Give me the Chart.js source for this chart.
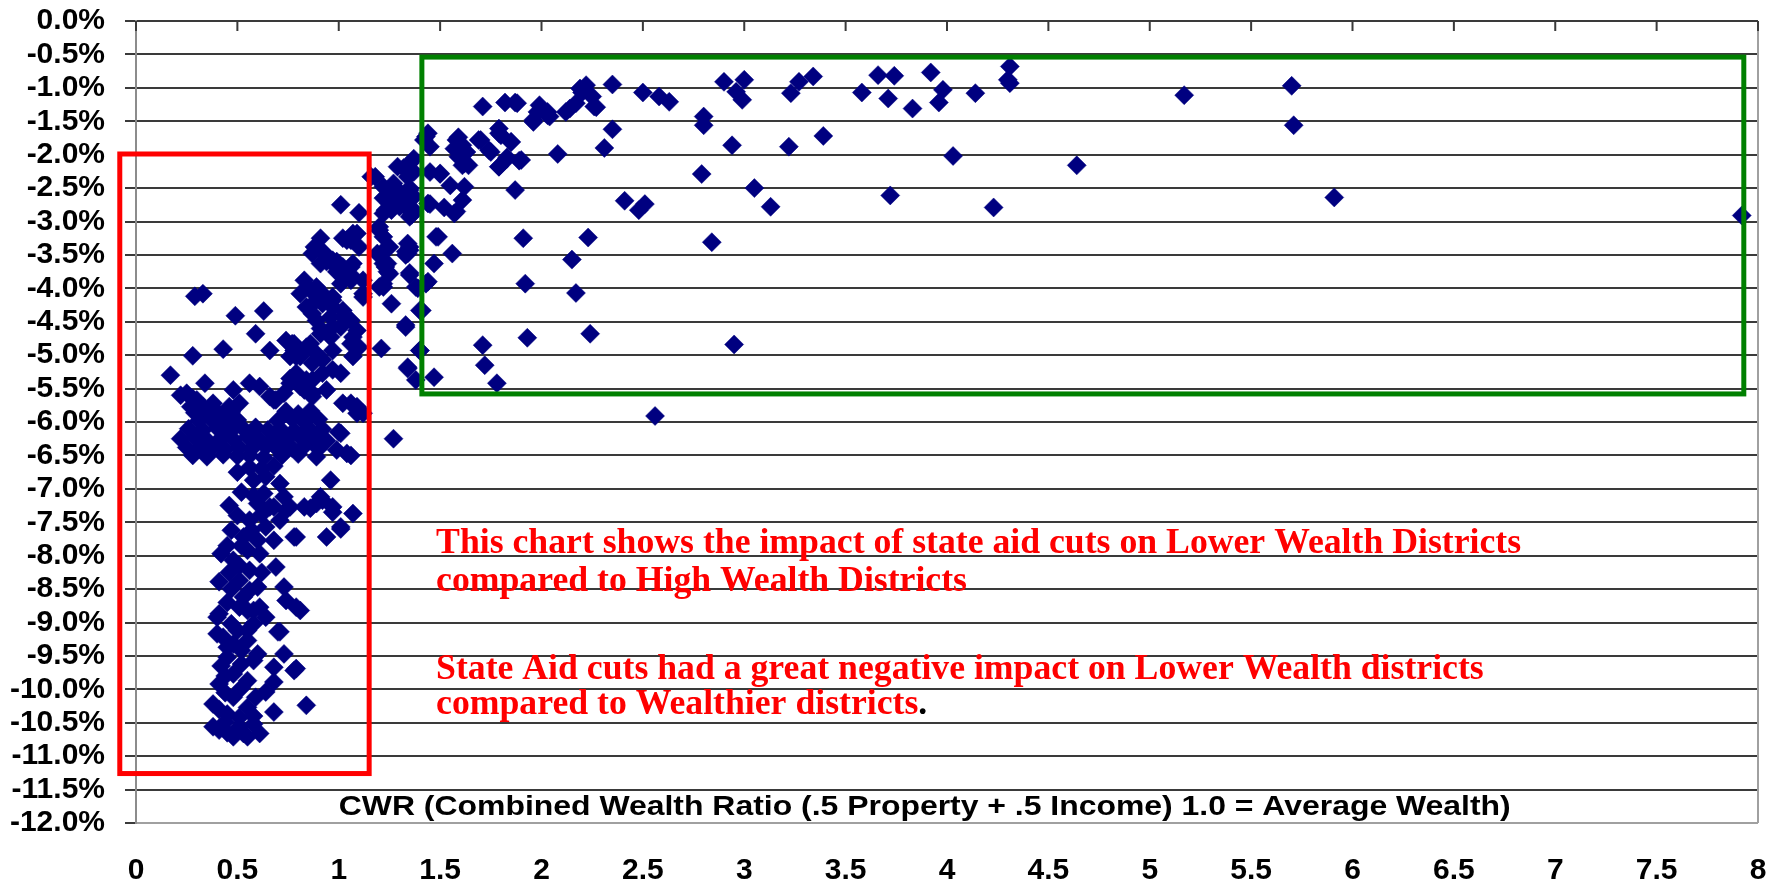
<!DOCTYPE html>
<html>
<head>
<meta charset="utf-8">
<title>State aid cuts by Combined Wealth Ratio</title>
<script src="https://cdn.jsdelivr.net/npm/chart.js@4.4.0/dist/chart.umd.min.js"></script>
<style>
  body { margin: 0; background: #fff; }
  canvas { display: block; }
</style>
</head>
<body>
<canvas id="cwrChart" width="1783" height="884"></canvas>
<script>
// each district: [CWR, % change in state aid]
const highWealth = [
  [2.35, -0.95], [2.50, -1.07], [2.58, -1.13], [2.63, -1.21], [2.80, -1.43], [2.80, -1.56],
  [2.90, -0.91], [3.00, -0.88], [2.96, -1.06], [2.99, -1.18], [3.23, -1.08], [3.27, -0.91],
  [3.34, -0.83], [2.94, -1.86], [3.22, -1.88], [3.39, -1.72], [2.79, -2.29], [3.05, -2.50],
  [3.13, -2.78], [2.41, -2.69], [2.48, -2.83], [2.51, -2.74], [2.84, -3.31], [2.95, -4.84],
  [2.56, -5.91], [2.35, -1.62], [2.31, -1.90], [3.58, -1.07], [3.66, -0.81], [3.74, -0.82],
  [3.71, -1.16], [3.83, -1.31], [3.92, -0.77], [3.98, -1.03], [3.96, -1.22], [4.14, -1.08],
  [4.31, -0.68], [4.30, -0.88], [4.31, -0.93], [4.03, -2.02], [4.64, -2.16], [3.72, -2.61],
  [4.23, -2.79], [5.17, -1.11], [5.70, -0.97], [5.71, -1.56], [5.91, -2.64], [7.92, -2.91]
];
const midWealth = [
  [2.19, -1.01], [2.22, -0.96], [2.20, -1.07], [2.25, -1.13], [2.27, -1.29], [2.17, -1.23],
  [2.14, -1.31], [2.12, -1.36], [1.99, -1.26], [2.03, -1.36], [1.98, -1.36], [1.96, -1.51],
  [2.04, -1.43], [1.82, -1.22], [1.87, -1.22], [1.71, -1.28], [1.79, -1.61], [1.80, -1.71],
  [1.85, -1.81], [1.69, -1.78], [1.74, -1.93], [1.59, -1.74], [1.57, -1.91], [1.61, -1.86],
  [1.63, -1.96], [1.59, -2.03], [1.61, -2.16], [1.64, -2.16], [1.83, -2.04], [1.79, -2.18],
  [1.89, -2.09], [2.08, -1.99], [1.87, -2.53], [1.50, -2.29], [1.55, -2.46], [1.62, -2.48],
  [1.61, -2.68], [1.45, -2.74], [1.52, -2.79], [1.57, -2.88], [1.91, -3.25], [2.23, -3.24],
  [1.49, -3.23], [1.56, -3.48], [1.47, -3.63], [2.15, -3.57], [1.92, -3.93], [2.17, -4.07],
  [1.44, -3.90], [1.93, -4.74], [2.24, -4.68], [1.71, -4.85], [1.72, -5.15], [1.78, -5.42],
  [1.47, -5.33], [1.43, -1.73], [1.45, -1.88], [1.45, -2.26], [1.44, -2.73], [1.58, -1.78],
  [1.60, -1.93], [1.62, -2.13], [1.70, -1.78], [1.75, -1.96], [1.79, -1.68], [1.79, -2.18],
  [1.90, -2.08], [1.83, -2.06], [1.85, -1.81], [1.88, -1.23], [1.96, -1.48], [2.03, -1.41],
  [2.26, -1.28], [1.50, -2.28], [1.58, -2.85], [1.43, -3.93], [1.40, -4.33], [1.40, -4.93],
  [1.48, -3.23], [1.44, -1.68], [1.42, -1.78]
];
const risingBand = [
  [1.35, -2.13], [1.34, -2.33], [1.35, -2.53], [1.33, -2.68], [1.37, -2.83], [1.35, -2.93],
  [1.34, -3.33], [1.35, -3.43], [1.33, -3.45], [1.35, -3.77], [1.39, -4.00], [1.41, -4.33],
  [1.33, -4.58], [1.40, -4.93], [1.34, -5.18], [1.38, -5.37], [1.16, -2.33], [1.22, -2.48],
  [1.27, -2.43], [1.22, -2.65], [1.29, -2.60], [1.33, -2.78], [1.26, -2.83], [1.37, -2.06],
  [1.35, -2.26], [1.20, -3.08], [1.22, -3.23], [1.25, -3.38], [1.23, -3.68], [1.24, -3.75],
  [1.22, -3.98], [1.35, -3.38], [1.33, -3.50], [1.35, -3.80], [1.26, -4.23], [1.33, -4.55],
  [1.21, -4.90], [1.34, -5.20], [1.27, -6.25], [1.18, -2.33], [1.24, -2.53], [1.25, -2.73],
  [1.22, -2.88], [1.20, -3.13], [1.24, -3.38], [1.22, -3.63], [1.19, -3.48], [1.20, -3.98],
  [1.29, -2.18], [1.32, -2.20], [1.37, -2.26], [1.30, -2.56], [1.35, -2.50], [1.37, -2.63],
  [1.24, -2.68], [1.28, -2.73], [1.23, -2.83], [1.30, -2.78], [1.36, -2.90], [1.34, -2.68],
  [1.34, -3.48], [1.24, -3.63], [1.25, -3.78], [1.38, -3.98], [1.22, -3.93], [1.23, -3.63]
];
const nearAverage = [
  [1.01, -2.75], [1.10, -2.87], [1.02, -3.25], [1.06, -3.28], [1.09, -3.18], [1.10, -3.38],
  [0.91, -3.25], [0.88, -3.38], [0.87, -3.48], [0.92, -3.45], [0.94, -3.60], [0.99, -3.60],
  [1.06, -3.68], [0.99, -3.75], [1.06, -3.88], [1.12, -3.88], [1.12, -4.13], [0.83, -3.88],
  [0.86, -4.03], [0.89, -3.98], [0.92, -4.08], [0.84, -4.28], [0.87, -4.38], [0.92, -4.23],
  [0.96, -4.43], [0.97, -4.18], [1.02, -4.33], [1.06, -4.48], [1.01, -4.58], [1.09, -4.63],
  [0.91, -4.60], [0.96, -4.73], [1.06, -4.83], [1.10, -4.88], [0.86, -4.83], [0.89, -4.98],
  [0.92, -5.07], [0.92, -5.27], [0.87, -5.37], [0.78, -4.83], [0.76, -5.02], [0.81, -5.02],
  [0.79, -5.27], [0.84, -5.37], [0.76, -5.42], [1.01, -5.27], [1.06, -5.72], [1.09, -5.87],
  [1.00, -6.15], [1.07, -3.18], [1.04, -3.28], [0.93, -3.48], [0.97, -3.63], [1.02, -3.68],
  [1.07, -3.63], [1.02, -3.83], [1.07, -3.83], [0.97, -4.13], [1.12, -4.08], [0.91, -3.63],
  [0.97, -3.58], [1.04, -3.73], [1.01, -3.93], [0.81, -4.08], [0.89, -4.18], [0.97, -4.28],
  [1.02, -4.43], [0.89, -4.48], [0.97, -4.58], [1.07, -4.73], [0.91, -4.68], [0.84, -4.88],
  [0.97, -4.93], [1.07, -5.02], [0.87, -5.12], [0.97, -5.22], [0.74, -4.78], [0.78, -4.93],
  [0.78, -5.32], [0.81, -5.47], [0.87, -5.57], [0.94, -5.52], [1.02, -5.72], [1.09, -5.77],
  [1.12, -5.87], [0.96, -6.87], [0.91, -7.12], [0.97, -7.27], [1.07, -7.37], [1.01, -7.57],
  [0.94, -7.72], [0.99, -6.42], [1.04, -6.47], [1.06, -6.50], [1.01, -6.17]
];
const lowScatter = [
  [0.29, -4.12], [0.33, -4.08], [0.49, -4.41], [0.63, -4.34], [0.59, -4.68], [0.43, -4.91],
  [0.28, -5.01], [0.66, -4.93], [0.17, -5.30], [0.22, -5.60], [0.25, -5.57], [0.34, -5.42],
  [0.30, -5.67], [0.33, -5.77], [0.38, -5.72], [0.40, -5.87], [0.48, -5.52], [0.51, -5.72],
  [0.46, -5.77], [0.56, -5.42], [0.61, -5.47], [0.66, -5.62], [0.69, -5.67], [0.73, -5.57],
  [0.77, -4.83], [0.79, -5.02], [0.27, -5.77], [0.32, -5.82], [0.28, -5.65], [0.68, -5.67],
  [0.76, -5.35], [0.83, -5.52], [0.87, -5.62]
];
const lowShelf = [
  [0.29, -5.86], [0.35, -5.83], [0.41, -5.88], [0.47, -5.85], [0.74, -5.84], [0.80, -5.88],
  [0.86, -5.83], [0.31, -5.98], [0.37, -5.96], [0.44, -6.00], [0.50, -5.97], [0.70, -5.98],
  [0.77, -5.95], [0.83, -6.00], [0.90, -5.96], [0.26, -6.10], [0.33, -6.12], [0.40, -6.09],
  [0.47, -6.13], [0.53, -6.10], [0.59, -6.08], [0.65, -6.12], [0.71, -6.10], [0.78, -6.13],
  [0.85, -6.09], [0.92, -6.11], [0.22, -6.25], [0.29, -6.23], [0.35, -6.27], [0.42, -6.24],
  [0.48, -6.26], [0.55, -6.22], [0.61, -6.27], [0.68, -6.24], [0.74, -6.26], [0.81, -6.23],
  [0.88, -6.25], [0.94, -6.28], [0.25, -6.38], [0.31, -6.40], [0.38, -6.37], [0.44, -6.41],
  [0.51, -6.38], [0.57, -6.40], [0.64, -6.37], [0.70, -6.41], [0.77, -6.39], [0.83, -6.36],
  [0.90, -6.40], [0.28, -6.50], [0.35, -6.52], [0.43, -6.49], [0.50, -6.51], [0.56, -6.50],
  [0.63, -6.53], [0.72, -6.50], [0.80, -6.48], [0.89, -6.52]
];
const lowColumn = [
  [0.58, -6.87], [0.64, -6.82], [0.71, -6.92], [0.63, -7.07], [0.73, -7.12], [0.66, -7.27],
  [0.76, -7.27], [0.78, -7.72], [0.46, -7.25], [0.86, -7.29], [0.92, -7.17], [0.97, -7.35],
  [1.01, -7.60], [0.79, -7.72], [0.60, -7.22], [0.68, -7.27], [0.74, -7.32], [0.83, -7.27],
  [0.89, -7.22], [0.56, -7.47], [0.64, -7.57], [0.71, -7.47], [0.53, -7.72], [0.60, -7.77],
  [0.68, -7.77], [0.42, -7.97], [0.48, -8.07], [0.55, -7.92], [0.61, -7.97], [0.69, -8.17],
  [0.56, -8.22], [0.41, -8.39], [0.51, -8.37], [0.60, -8.47], [0.73, -8.47], [0.79, -8.77],
  [0.74, -8.67], [0.53, -8.62], [0.61, -8.77], [0.55, -8.82], [0.64, -8.92], [0.71, -9.14],
  [0.40, -8.92], [0.40, -9.17], [0.50, -9.12], [0.55, -9.27], [0.45, -9.37], [0.60, -9.47],
  [0.73, -9.47], [0.68, -9.67], [0.79, -9.69], [0.41, -8.87], [0.51, -8.77], [0.58, -8.82],
  [0.48, -9.32], [0.55, -9.12], [0.45, -9.52], [0.58, -9.57], [0.48, -9.77], [0.41, -9.92],
  [0.55, -9.87], [0.48, -10.12], [0.38, -10.22], [0.45, -10.37], [0.55, -10.27], [0.58, -10.52],
  [0.41, -10.61], [0.48, -10.71], [0.55, -10.71], [0.61, -10.66], [0.38, -10.56], [0.51, -10.56],
  [0.81, -8.82], [0.78, -9.72], [0.68, -9.89], [0.64, -10.04], [0.84, -10.24], [0.68, -10.34],
  [0.70, -9.14], [0.50, -6.75], [0.56, -6.68], [0.62, -6.70], [0.68, -6.66], [0.52, -7.05],
  [0.58, -7.10], [0.50, -7.40], [0.62, -7.38], [0.47, -7.62], [0.57, -7.62], [0.45, -7.85],
  [0.52, -7.85], [0.46, -8.25], [0.51, -8.15], [0.62, -8.25], [0.47, -8.50], [0.56, -8.52],
  [0.45, -8.70], [0.47, -9.02], [0.58, -9.02], [0.43, -9.22], [0.52, -9.42], [0.42, -9.65],
  [0.52, -9.62], [0.44, -9.80], [0.52, -9.98], [0.44, -10.05], [0.59, -10.12], [0.41, -10.30],
  [0.51, -10.42], [0.44, -10.49], [0.58, -10.40], [0.45, -10.65], [0.53, -10.66]
];

const xTitle = "CWR (Combined Wealth Ratio (.5 Property + .5 Income) 1.0 = Average Wealth)";
const noteLines = [
  "This chart shows the impact of state aid cuts on Lower Wealth Districts",
  "compared to High Wealth Districts",
  "State Aid cuts had a great negative impact on Lower Wealth districts",
  "compared to Wealthier districts"
];

// highlight boxes, in axis units
const boxes = [
  { color: "#ff0000", x0: -0.08, x1: 1.15, y0: -1.99, y1: -11.26 },
  { color: "#008000", x0: 1.41, x1: 7.93, y0: -0.54, y1: -5.58 }
];

const allPoints = [].concat(highWealth, midWealth, risingBand, nearAverage, lowScatter, lowShelf, lowColumn)
  .map(p => ({ x: p[0], y: p[1] }));

const overlay = {
  id: "overlay",
  afterDatasetsDraw(chart) {
    const { ctx, chartArea, scales } = chart;
    const xs = scales.x, ys = scales.y;
    ctx.save();
    // plot border on the right
    ctx.strokeStyle = "#a0a0a0";
    ctx.lineWidth = 2;
    ctx.beginPath();
    ctx.moveTo(chartArea.right, chartArea.top);
    ctx.lineTo(chartArea.right, chartArea.bottom);
    ctx.stroke();
    // x tick marks hang from the top (axis crosses at 0%)
    ctx.strokeStyle = "#3a3a3a";
    ctx.beginPath();
    xs.ticks.forEach(t => {
      const px = xs.getPixelForValue(t.value);
      ctx.moveTo(px, chartArea.top);
      ctx.lineTo(px, chartArea.top + 10);
    });
    ctx.stroke();

    ctx.lineWidth = 5;
    boxes.forEach(b => {
      const l = xs.getPixelForValue(b.x0), r = xs.getPixelForValue(b.x1);
      const t = ys.getPixelForValue(b.y0), btm = ys.getPixelForValue(b.y1);
      ctx.strokeStyle = b.color;
      ctx.strokeRect(l, t, r - l, btm - t);
    });

    // axis title sits inside the plot
    ctx.fillStyle = "#000";
    ctx.font = "bold 28px 'Liberation Sans', Arial, sans-serif";
    ctx.textBaseline = "alphabetic";
    ctx.textAlign = "left";
    const tx = xs.getPixelForValue(1.0), ty = ys.getPixelForValue(-11.88);
    const w = ctx.measureText(xTitle).width;
    ctx.save();
    ctx.translate(tx, ty);
    ctx.scale(1172 / w, 1);
    ctx.fillText(xTitle, 0, 0);
    ctx.restore();

    // red notes
    ctx.font = "bold 36px 'Liberation Serif', 'Times New Roman', serif";
    const sx = 1085 / ctx.measureText(noteLines[0]).width;
    const noteY = [-7.96, -8.53, -9.84, -10.37];
    const nx = xs.getPixelForValue(1.48);
    noteLines.forEach((line, i) => {
      ctx.save();
      ctx.translate(nx, ys.getPixelForValue(noteY[i]));
      ctx.scale(sx, 1);
      ctx.fillStyle = "#ff0000";
      ctx.fillText(line, 0, 0);
      if (i === 3) {
        ctx.fillStyle = "#000";
        ctx.fillText(".", ctx.measureText(line).width, 0);
      }
      ctx.restore();
    });
    ctx.restore();
  }
};

const tickFont = { family: "'Liberation Sans', Arial, sans-serif", size: 30, weight: "bold" };

const cwrChart = new Chart(document.getElementById("cwrChart"), {
  type: "scatter",
  data: {
    datasets: [
      {
        data: allPoints,
        pointStyle: "rectRot",
        pointRadius: 9.5,
        pointHoverRadius: 9.5,
        backgroundColor: "#000080",
        borderColor: "#000080",
        borderWidth: 0.5,
        clip: false
      }
    ]
  },
  options: {
    responsive: false,
    animation: false,
    events: [],
    layout: { padding: { top: 21, right: 25, left: 0, bottom: 0 } },
    plugins: { legend: { display: false }, tooltip: { enabled: false } },
    scales: {
      x: {
        type: "linear",
        min: 0,
        max: 8,
        afterFit: s => {
          s.height = 61;
          s.paddingLeft = 0;
          s.paddingRight = 0;
        },
        grid: { display: false, drawTicks: false },
        border: { display: false },
        ticks: {
          stepSize: 0.5,
          autoSkip: false,
          maxRotation: 0,
          padding: 30,
          color: "#000",
          font: tickFont,
          callback: v => String(v)
        }
      },
      y: {
        min: -12,
        max: 0,
        afterFit: s => {
          s.width = 136;
          s.paddingTop = 0;
          s.paddingBottom = 0;
        },
        grid: {
          color: c => (c.tick && c.tick.value === -12 ? "#a0a0a0" : "#3a3a3a"),
          tickColor: "#3a3a3a",
          lineWidth: 2,
          tickLength: 11
        },
        border: { color: "#8c8c8c", width: 2 },
        ticks: {
          stepSize: 0.5,
          autoSkip: false,
          padding: 20,
          color: "#000",
          font: tickFont,
          callback: v => v.toFixed(1) + "%"
        }
      }
    }
  },
  plugins: [overlay]
});
</script>
</body>
</html>
